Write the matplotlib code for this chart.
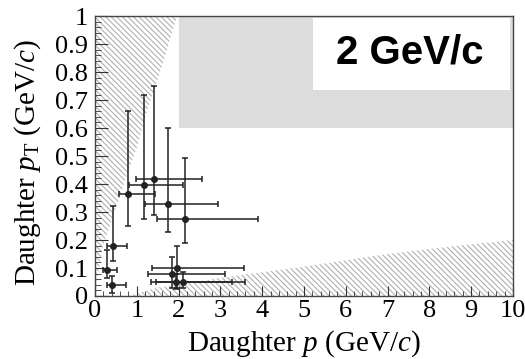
"""Daughter pT vs p for the 2 GeV/c sample, with the kinematically excluded
(hatched) regions and the signal box (grey)."""
import matplotlib
matplotlib.use("Agg")
import matplotlib.pyplot as plt
from matplotlib.patches import Rectangle, Polygon
from matplotlib.ticker import MultipleLocator, FuncFormatter

# measured daughters: central value and error-bar extent
p = [1.41, 1.16, 0.80, 1.75, 2.15, 0.42, 0.29, 0.41, 1.96, 1.84, 1.94, 2.11]
p_lo = [0.97, 0.81, 0.57, 1.19, 1.48, 0.29, 0.20, 0.29, 1.36, 1.26, 1.34, 1.47]
p_hi = [2.56, 2.10, 1.44, 2.94, 3.90, 0.77, 0.52, 0.74, 3.56, 3.12, 3.28, 3.60]
pt = [0.417, 0.395, 0.364, 0.330, 0.274, 0.179, 0.093, 0.040, 0.101, 0.077, 0.050, 0.050]
pt_lo = [0.288, 0.274, 0.251, 0.229, 0.189, 0.125, 0.064, 0.010, 0.030, 0.027, 0.025, 0.027]
pt_hi = [0.751, 0.718, 0.661, 0.600, 0.493, 0.321, 0.164, 0.071, 0.180, 0.140, 0.080, 0.087]

# edges of the excluded regions
left_edge_p = [0.0, 0.07, 0.19, 0.47, 0.71, 1.00, 1.24, 1.60, 1.96]
left_edge_pt = [0.0, 0.08, 0.18, 0.30, 0.41, 0.53, 0.66, 0.82, 1.00]
bottom_edge_p = [0.8, 1.5, 2.2, 3.0, 4.0, 5.0, 6.0, 7.0, 8.0, 9.0, 10.0]
bottom_edge_pt = [0.0, 0.030, 0.045, 0.065, 0.085, 0.105, 0.128, 0.150, 0.168, 0.185, 0.200]

# signal box corner
box_p_min, box_pt_min = 2.0, 0.6
label = "2 GeV/c"

plt.rcParams["font.family"] = "Liberation Serif"
plt.rcParams["mathtext.fontset"] = "custom"
plt.rcParams["mathtext.rm"] = "Liberation Serif"
plt.rcParams["mathtext.it"] = "Liberation Serif:italic"
plt.rcParams["hatch.linewidth"] = 0.8

fig = plt.figure(figsize=(5.25, 3.59), dpi=100)
ax = fig.add_axes([0.181, 0.1755, 0.796, 0.7795])
ax.set_xlim(0, 10)
ax.set_ylim(0, 1)

# signal box
ax.add_patch(Rectangle((box_p_min, box_pt_min), 10 - box_p_min, 1 - box_pt_min,
                       facecolor="#dcdcdc", edgecolor="none", zorder=0))

# hatched regions
left_poly = list(zip(left_edge_p, left_edge_pt)) + [(0.0, 1.0)]
bottom_poly = list(zip(bottom_edge_p, bottom_edge_pt)) + [(10.0, 0.0)]
for poly in (left_poly, bottom_poly):
    ax.add_patch(Polygon(poly, closed=True, facecolor="none", edgecolor="#b0b0b0",
                         linewidth=0, hatch="\\" * 6, zorder=1))

xerr = [[c - lo for c, lo in zip(p, p_lo)], [hi - c for c, hi in zip(p, p_hi)]]
yerr = [[c - lo for c, lo in zip(pt, pt_lo)], [hi - c for c, hi in zip(pt, pt_hi)]]
ax.errorbar(p, pt, xerr=xerr, yerr=yerr, fmt="o", color="#222222", ms=4,
            elinewidth=1.1, capsize=2, capthick=1.1, zorder=3)

# label box
ax.add_patch(Rectangle((5.22, 0.736), 4.71, 0.257, facecolor="white",
                       edgecolor="none", zorder=2))
ax.text(7.54, 0.869, label, ha="center", va="center", fontsize=29,
        fontweight="bold", family="Liberation Sans", zorder=4)

ax.xaxis.set_major_locator(MultipleLocator(1))
ax.xaxis.set_minor_locator(MultipleLocator(0.2))
ax.yaxis.set_major_locator(MultipleLocator(0.1))
ax.yaxis.set_minor_locator(MultipleLocator(0.02))
ax.yaxis.set_major_formatter(FuncFormatter(lambda v, _: f"{v:g}"))
ax.tick_params(which="both", direction="in", top=False, right=False,
               labelsize=19, color="#333333")
ax.tick_params(axis="y", which="major", length=9, pad=5)
ax.tick_params(axis="y", which="minor", length=4.5)
ax.tick_params(axis="x", which="major", length=7, pad=3)
ax.tick_params(axis="x", which="minor", length=3.5)
for s in ax.spines.values():
    s.set_color("#444444")
    s.set_linewidth(1.0)

ax.set_xlabel(r"Daughter $p$ (GeV/$c$)", fontsize=21)
ax.set_ylabel(r"Daughter $p_{\mathrm{T}}$ (GeV/$c$)", fontsize=21)
ax.xaxis.set_label_coords(0.5, -0.115)
ax.yaxis.set_label_coords(-0.124, 0.475)

fig.savefig("out.png", dpi=100)
